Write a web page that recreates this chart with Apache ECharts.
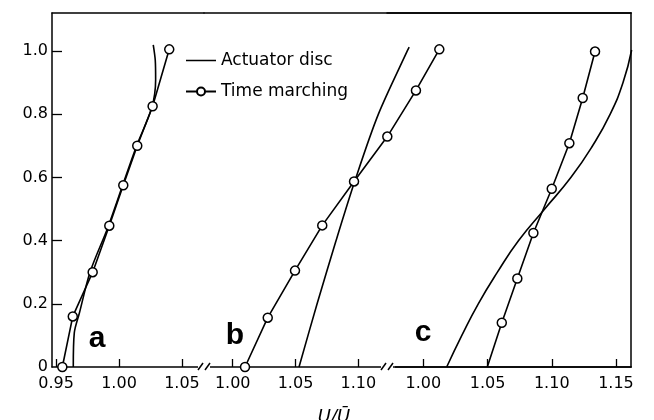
<!DOCTYPE html>
<html>
<head>
<meta charset="utf-8">
<script src="https://cdn.jsdelivr.net/npm/echarts@6/dist/echarts.min.js"></script>
<style>html,body{margin:0;padding:0;background:#fff}#c{width:654px;height:420px}</style>
</head>
<body>
<div id="c"></div>
<script>
// ---- data ----
const yTickVals = [0, 0.2, 0.4, 0.6, 0.8, 1.0];
const yTickLabels = ['0', '0.2', '0.4', '0.6', '0.8', '1.0'];
const xTicksA = [0.95, 1.00, 1.05];
const xTicksB = [1.00, 1.05, 1.10];
const xTicksC = [1.00, 1.05, 1.10, 1.15];
const panelNames = ['a', 'b', 'c'];
const seriesNames = ['Actuator disc', 'Time marching'];
const axisTitle = 'U/\u016A';

// panel a
const actA_x = [0.9637, 0.9645, 0.9685, 0.977, 0.991, 1.0029, 1.014, 1.026, 1.0291, 1.0288, 1.0272];
const actA_y = [0, 0.108, 0.17, 0.30, 0.44, 0.575, 0.70, 0.82, 0.91, 0.97, 1.019];
const tmA_x = [0.955, 0.9633, 0.9791, 0.9923, 1.0034, 1.0145, 1.0267, 1.0399];
const tmA_y = [0, 0.16, 0.30, 0.447, 0.575, 0.70, 0.825, 1.005];
// panel b
const actB_x = [1.0528, 1.0672, 1.0823, 1.0982, 1.1160, 1.1390, 1.1405];
const actB_y = [0, 0.2, 0.4, 0.6, 0.8, 1.0, 1.012];
const tmB_x = [1.0098, 1.0279, 1.0496, 1.0713, 1.0966, 1.1231, 1.1459, 1.1645];
const tmB_y = [0, 0.156, 0.305, 0.448, 0.587, 0.729, 0.875, 1.005];
// panel c
const actC_x = [1.0182, 1.0300, 1.0428, 1.0577, 1.0742, 1.0945, 1.1150, 1.1318, 1.1455, 1.1555, 1.1622];
const actC_y = [0, 0.1, 0.2, 0.3, 0.4, 0.5, 0.6, 0.7, 0.8, 0.9, 1.003];
const tmC_x = [1.0498, 1.0611, 1.0732, 1.0857, 1.1, 1.1137, 1.1241, 1.1337];
const tmC_y = [0, 0.14, 0.28, 0.424, 0.564, 0.708, 0.851, 0.998];

// ---- chart ----
const FONT = '"DejaVu Sans", "Liberation Sans", Arial, sans-serif';
const zip = (xs, ys) => xs.map((x, i) => [x, ys[i]]);
// panel b's grid runs to the right frame so that its curves can continue over panel c
const grids = [
  {left: 52, top: 13, width: 152, height: 354},
  {left: 204, top: 13, width: 427, height: 354},
  {left: 387, top: 13, width: 244, height: 354}
];
const xRanges = [[0.9468, 1.0675], [0.97715, 1.31711], [0.97173, 1.1617]];
const xTicks = [xTicksA, xTicksB, xTicksC];
const yMax = 1.12;

const xAxes = [];
const yAxes = [];
grids.forEach((g, i) => {
  xAxes.push({
    type: 'value', gridIndex: i, position: 'bottom',
    min: xRanges[i][0], max: xRanges[i][1],
    splitLine: {show: false},
    axisLine: {show: true, onZero: false, lineStyle: {color: '#000', width: 1.5}},
    axisTick: {show: true, inside: true, length: 8, lineStyle: {color: '#000', width: 1.3}, customValues: xTicks[i]},
    axisLabel: {show: true, customValues: xTicks[i], color: '#000', fontSize: 16, fontFamily: FONT, margin: 9,
      formatter: v => v.toFixed(2)}
  });
  xAxes.push({
    type: 'value', gridIndex: i, position: 'top',
    min: xRanges[i][0], max: xRanges[i][1],
    splitLine: {show: false},
    axisLine: {show: true, onZero: false, lineStyle: {color: '#000', width: 1.5}},
    axisTick: {show: false}, axisLabel: {show: false}
  });
  const yAx = {
    type: 'value', gridIndex: i, min: 0, max: yMax,
    splitLine: {show: false},
    axisLine: {show: i !== 1, onZero: false, lineStyle: {color: '#000', width: 1.5}},
    axisTick: {show: false}, axisLabel: {show: false}
  };
  if (i === 0) {
    yAx.position = 'left';
    yAx.axisTick = {show: true, inside: true, length: 10, lineStyle: {color: '#000', width: 1.3}, customValues: yTickVals.slice(1)};
    yAx.axisLabel = {show: true, customValues: yTickVals, color: '#000', fontSize: 16, fontFamily: FONT, margin: 4,
      formatter: v => { const k = yTickVals.findIndex(t => Math.abs(t - v) < 1e-6); return k >= 0 ? yTickLabels[k] : ''; }};
  }
  if (i === 2) yAx.position = 'right';
  yAxes.push(yAx);
});

const actData = [zip(actA_x, actA_y), zip(actB_x, actB_y), zip(actC_x, actC_y)];
const tmData = [zip(tmA_x, tmA_y), zip(tmB_x, tmB_y), zip(tmC_x, tmC_y)];
tmData[2][0] = {value: tmData[2][0], symbol: 'none'};
const actSmooth = [0.3, 0.3, 0.5];

const series = [];
for (let i = 0; i < 3; i++) {
  series.push({
    name: seriesNames[0], type: 'line', xAxisIndex: 2 * i, yAxisIndex: i,
    data: actData[i], symbol: 'none', smooth: actSmooth[i], clip: false,
    color: '#000', lineStyle: {color: '#000', width: 1.6}, z: 3
  });
  series.push({
    name: seriesNames[1], type: 'line', xAxisIndex: 2 * i, yAxisIndex: i,
    data: tmData[i], symbol: 'circle', symbolSize: 9, clip: false,
    color: '#000', lineStyle: {color: '#000', width: 1.6},
    itemStyle: {color: '#fff', borderColor: '#000', borderWidth: 1.5}, z: 4
  });
}

const breakMark = (cx) => ({
  type: 'group', children: [
    {type: 'rect', shape: {x: cx - 8, y: 362, width: 16, height: 10}, style: {fill: '#fff'}, z: 10},
    {type: 'line', shape: {x1: cx - 8, y1: 367, x2: cx - 6, y2: 367}, style: {stroke: '#000', lineWidth: 1.5}, z: 11},
    {type: 'line', shape: {x1: cx - 6, y1: 370, x2: cx - 1, y2: 363}, style: {stroke: '#000', lineWidth: 1.5}, z: 11},
    {type: 'line', shape: {x1: cx + 1, y1: 370, x2: cx + 6, y2: 363}, style: {stroke: '#000', lineWidth: 1.5}, z: 11},
    {type: 'line', shape: {x1: cx + 6, y1: 367, x2: cx + 8, y2: 367}, style: {stroke: '#000', lineWidth: 1.5}, z: 11}
  ]
});

const panelPos = [[97, 339], [235, 336], [423, 333]];
const graphics = panelNames.map((t, i) => ({
  type: 'text', x: panelPos[i][0], y: panelPos[i][1],
  style: {text: t, fill: '#000', font: 'bold 30px "Liberation Sans", Arial, sans-serif', textAlign: 'center', textVerticalAlign: 'middle'}, z: 10
}));
graphics.push(breakMark(204), breakMark(387));
graphics.push({type: 'text', x: 334, y: 408,
  style: {text: axisTitle, fill: '#000', font: 'italic 18px ' + FONT, textAlign: 'center', textVerticalAlign: 'top'}});

const lineIcon = 'path://M0,0L0.01,0L0.01,0.01Z M0,4.2L30,4.2L30,5.8L0,5.8Z M29.99,9.99L30,9.99L30,10Z';

const chart = echarts.init(document.getElementById('c'), null, {renderer: 'canvas'});
chart.setOption({
  animation: false,
  backgroundColor: '#fff',
  grid: grids,
  xAxis: xAxes,
  yAxis: yAxes,
  legend: {
    data: [{name: seriesNames[0], icon: lineIcon}, {name: seriesNames[1]}],
    orient: 'vertical', left: 185, top: 52, padding: 0,
    itemWidth: 30, itemHeight: 10, itemGap: 14,
    textStyle: {color: '#000', fontSize: 17, fontFamily: FONT},
    selectedMode: false
  },
  series: series,
  graphic: graphics
});
</script>
</body>
</html>
